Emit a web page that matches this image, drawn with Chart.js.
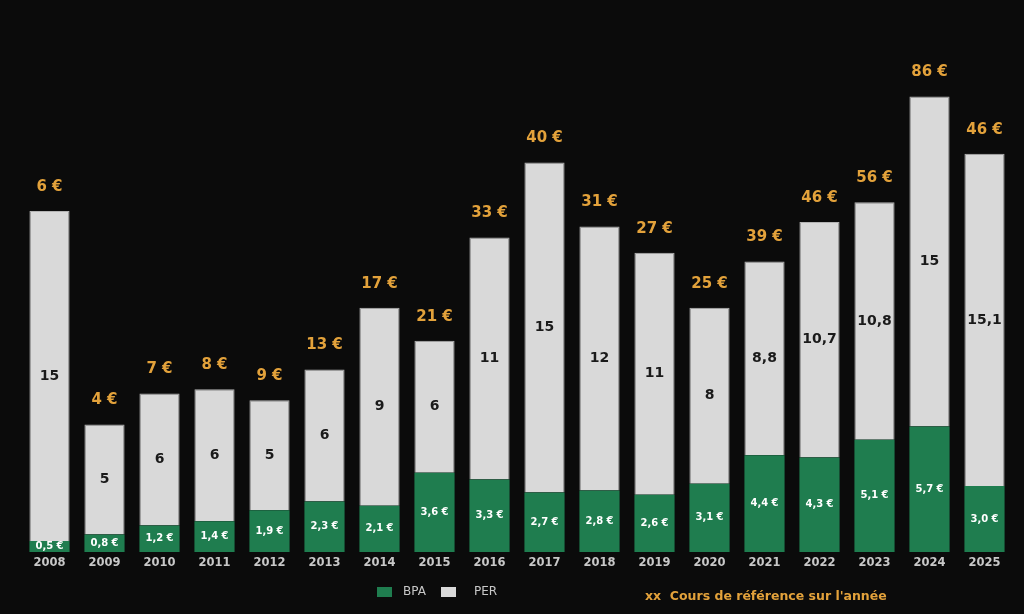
<!DOCTYPE html>
<html>
<head>
<meta charset="utf-8">
<script src="https://cdn.jsdelivr.net/npm/chart.js@4.4.1/dist/chart.umd.min.js"></script>
<style>
  html, body { margin: 0; padding: 0; background: #0b0b0b; }
  #wrap { width: 1024px; height: 614px; }
</style>
</head>
<body>
<div id="wrap"><canvas id="chart" width="1024" height="614"></canvas></div>
<script>
// ── Données ───────────────────────────────────────────────
const years = ['2008','2009','2010','2011','2012','2013','2014','2015','2016',
               '2017','2018','2019','2020','2021','2022','2023','2024','2025'];
const bpa   = [0.5, 0.8, 1.2, 1.4, 1.9, 2.3, 2.1, 3.6, 3.3, 2.7, 2.8, 2.6, 3.1, 4.4, 4.3, 5.1, 5.7, 3.0];
const per   = [15, 5, 6, 6, 5, 6, 9, 6, 11, 15, 12, 11, 8, 8.8, 10.7, 10.8, 15, 15.1];
const cours = [6, 4, 7, 8, 9, 13, 17, 21, 33, 40, 31, 27, 25, 39, 46, 56, 86, 46];

const GREEN  = '#1f7d4f';
const GREY   = '#d9d9d9';
const ORANGE = '#e3a23b';
const FONT   = '"DejaVu Sans", sans-serif';

// nombres à la française : virgule décimale
const fr = (v, dec) => (dec ? v.toFixed(dec) : String(v)).replace('.', ',');

// ── Étiquettes dans et au-dessus des barres ───────────────
const barLabels = {
  id: 'barLabels',
  afterDatasetsDraw(chart) {
    const ctx = chart.ctx;
    const mBpa = chart.getDatasetMeta(0);
    const mPer = chart.getDatasetMeta(1);
    ctx.save();
    ctx.textAlign = 'center';
    ctx.textBaseline = 'middle';

    mBpa.data.forEach((bar, i) => {
      ctx.font = `bold 10px ${FONT}`;
      ctx.fillStyle = '#ffffff';
      ctx.fillText(fr(bpa[i], 1) + ' €', bar.x, (bar.y + bar.base) / 2);
    });

    mPer.data.forEach((bar, i) => {
      ctx.font = `bold 14px ${FONT}`;
      ctx.fillStyle = '#1a1a1a';
      ctx.fillText(fr(per[i]), bar.x, (bar.y + bar.base) / 2);

      ctx.font = `bold 15px ${FONT}`;
      ctx.fillStyle = ORANGE;
      ctx.fillText(cours[i] + ' €', bar.x, bar.y - 24);
    });
    ctx.restore();
  }
};

// ── Légende + note "cours de référence" ───────────────────
const footer = {
  id: 'footer',
  afterDraw(chart) {
    const ctx = chart.ctx;
    ctx.save();
    ctx.textBaseline = 'middle';
    ctx.textAlign = 'left';

    const items = [
      { box: 377, text: 403, label: 'BPA', color: GREEN },
      { box: 441, text: 474, label: 'PER', color: GREY },
    ];
    items.forEach(it => {
      ctx.fillStyle = it.color;
      ctx.fillRect(it.box, 587, 15, 10);
      ctx.font = `12px ${FONT}`;
      ctx.fillStyle = '#c8c8c8';
      ctx.fillText(it.label, it.text, 592);
    });

    ctx.font = `bold 12.5px ${FONT}`;
    ctx.fillStyle = ORANGE;
    ctx.fillText("xx  Cours de référence sur l'année", 645, 597);
    ctx.restore();
  }
};

new Chart(document.getElementById('chart'), {
  type: 'bar',
  data: {
    labels: years,
    datasets: [
      { label: 'BPA', data: bpa, backgroundColor: GREEN, borderWidth: 0,
        barPercentage: 0.73, categoryPercentage: 1 },
      { label: 'PER', data: per, backgroundColor: GREY,
        borderColor: '#b4b4b4', borderWidth: 1, borderSkipped: 'bottom',
        barPercentage: 0.73, categoryPercentage: 1 },
    ],
  },
  options: {
    responsive: false,
    animation: false,
    layout: { padding: { top: 24, left: 22, right: 12, bottom: 0 } },
    plugins: {
      legend: { display: false },
      tooltip: { enabled: false },
    },
    scales: {
      x: {
        stacked: true,
        grid: { display: false },
        border: { display: false },
        ticks: {
          padding: -4,
          color: '#c8c8c8',
          font: { family: FONT, size: 11.5, weight: 'bold' },
        },
        afterFit: (axis) => { axis.height = 62; },
      },
      y: {
        stacked: true,
        display: false,
        min: 0,
        max: 24,
      },
    },
  },
  plugins: [barLabels, footer],
});
</script>
</body>
</html>
